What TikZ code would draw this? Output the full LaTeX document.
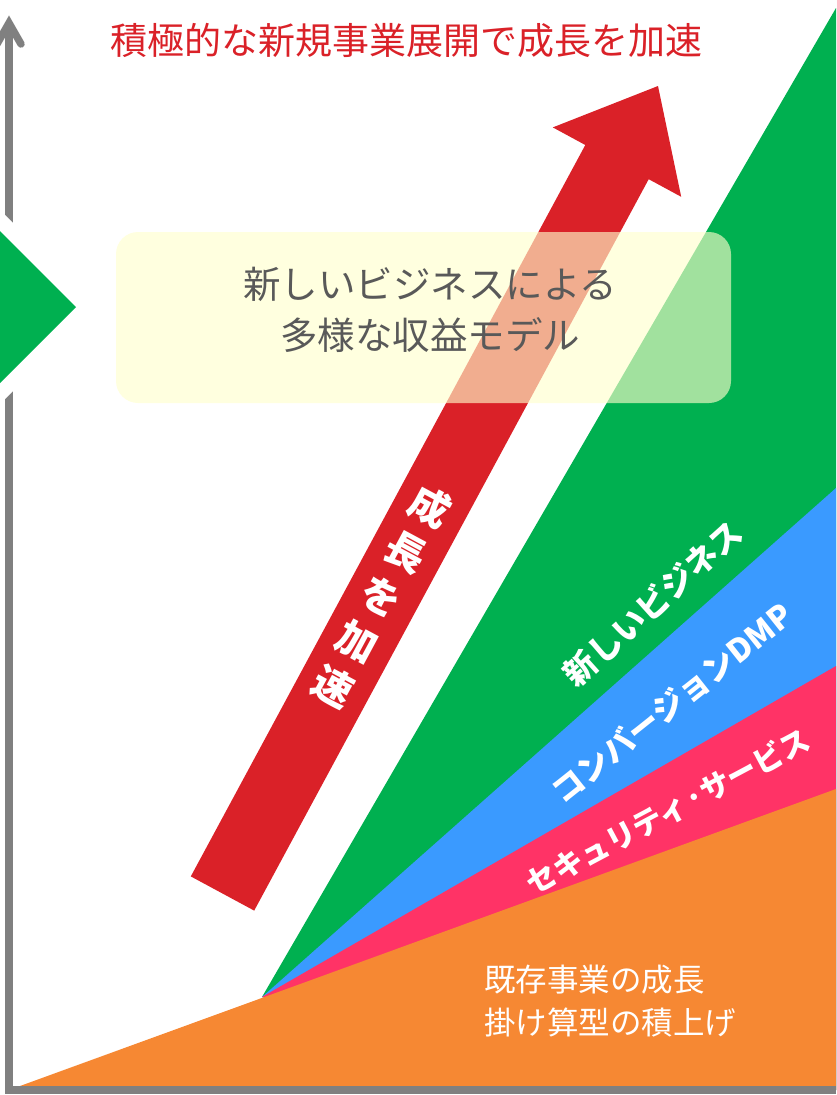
\documentclass[tikz,border=0pt]{standalone}
\usepackage{fontspec}
\setmainfont{Noto Sans CJK JP}
\definecolor{cgreen}{HTML}{00B050}
\definecolor{cblue}{HTML}{3A9AFF}
\definecolor{cpink}{HTML}{FF3366}
\definecolor{corange}{HTML}{F68833}
\definecolor{cred}{HTML}{DA2128}
\definecolor{caxis}{HTML}{808080}
\definecolor{ctext}{HTML}{595959}
\definecolor{cbox}{HTML}{FFFFCC}
\tikzset{
  axisline/.style={draw=caxis, line width=7.5pt},
  bandlabel/.style={text=white, font=\bfseries\fontsize{#1}{#1}\selectfont, inner sep=0pt},
  plainlabel/.style={inner sep=0pt, align=#1}
}
\begin{document}
\begin{tikzpicture}[x=1pt,y=-1pt]
\useasboundingbox (0,0) rectangle (836,1095);
\clip (0,0) rectangle (836,1095);
% fan
\fill[cgreen] (262,997) -- (836,8) -- (836,1090) -- cycle;
\fill[cblue] (262,997) -- (836,488) -- (836,1090) -- cycle;
\fill[cpink] (262,997) -- (836,666) -- (836,1090) -- cycle;
\fill[corange] (9,1090) -- (836,789) -- (836,1090) -- cycle;
% red arrow
\fill[cred] (190.8,876.4) -- (585.3,145.0) -- (552.8,127.4) -- (658,86)
  -- (681.2,196.8) -- (648.7,179.2) -- (254.2,910.6) -- cycle;
% axes
\draw[axisline] (836,1090) -- (9,1090) -- (9,23);
\draw[axisline, line cap=round, line join=miter] (-3,44) -- (9,23) -- (21,44);
% left green marker
\draw[white, line width=30pt, line join=round] (-70,161) -- (76,307) -- (-70,453);
\fill[cgreen] (-70,161) -- (76,307) -- (-70,453) -- cycle;
% box
\node (box) [fill=cbox, fill opacity=0.63, rounded corners=22pt,
  minimum width=615pt, minimum height=171pt, inner sep=0pt] at (423.5,317.5) {};
\node (boxtext) [plainlabel=center, text=ctext,
  font=\fontsize{37.5}{51}\selectfont] at (430,310) {新しいビジネスによる\\多様な収益モデル};
% title
\node (title) [plainlabel=center, text=cred, font=\fontsize{37}{37}\selectfont]
  at (406.5,40) {積極的な新規事業展開で成長を加速};
% arrow text
\node (arrowtext) [plainlabel=center, text=white, rotate=-28.3,
  font=\bfseries\fontsize{40}{51}\selectfont] at (382,596) {成\\長\\を\\加\\速};
% band labels
\node (lgreen) [bandlabel=32.5, rotate=42] at (653,603) {新しいビジネス};
\node (lblue) [bandlabel=32, rotate=38.5] at (672,703) {コンバージョンDMP};
\node (lpink) [bandlabel=30, rotate=28] at (668,811) {セキュリティ·サービス};
% orange text
\node (otext) [plainlabel=left, anchor=west, text=white,
  font=\fontsize{31.5}{43}\selectfont] at (484,1001) {既存事業の成長\\掛け算型の積上げ};
\end{tikzpicture}
\end{document}
